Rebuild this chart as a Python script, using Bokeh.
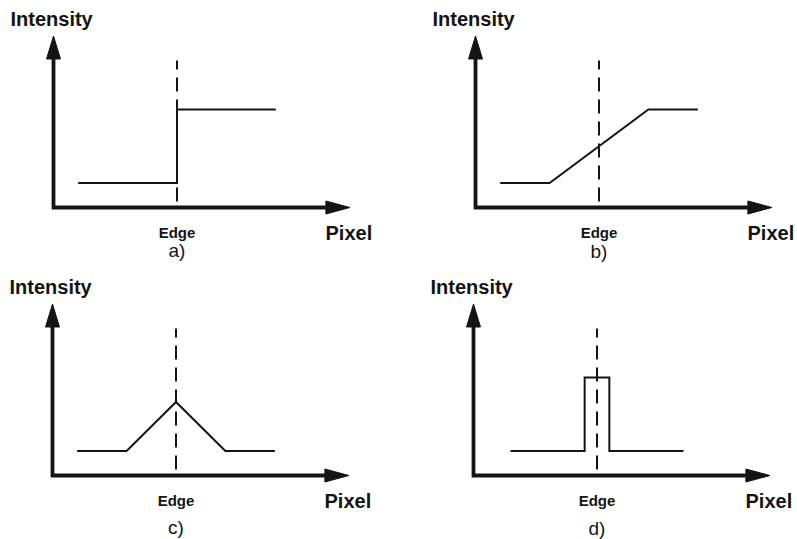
from bokeh.plotting import figure
from bokeh.layouts import column, row
from bokeh.models import Range1d, Label
from bokeh.embed import file_html
from bokeh.resources import INLINE

# Intensity profiles across an edge (x: pixel position, y: intensity)
step_x = [1, 5, 5, 9]
step_y = [1, 1, 4, 4]

ramp_x = [1, 3, 7, 9]
ramp_y = [1, 1, 4, 4]

roof_x = [1, 3, 5, 7, 9]
roof_y = [1, 1, 3, 1, 1]

pulse_x = [1.5, 4.5, 4.5, 5.5, 5.5, 8.5]
pulse_y = [1, 1, 4, 4, 1, 1]

edge_pos = 5
edge_span = [0.25, 6]
x_axis_end = 12
y_axis_end = 7

captions = ["a)", "b)", "c)", "d)"]
y_title = "Intensity"
x_title = "Pixel"
edge_label = "Edge"

# drawing scale: screen pixels per unit
SX = 24.7
SY = 24.5
INK = "#141414"
FONT = "Liberation Sans"


def panel(xs, ys, caption, width, height, ox, oy, caption_drop):
    p = figure(width=width, height=height, output_backend="svg",
               toolbar_location=None, x_axis_type=None, y_axis_type=None,
               min_border=0, outline_line_color=None,
               x_range=Range1d(-ox / SX, (width - ox) / SX),
               y_range=Range1d(-(height - oy) / SY, oy / SY))
    p.grid.visible = False
    p.background_fill_color = "white"
    p.border_fill_color = "white"

    # axes drawn as an L with filled arrow heads
    head_v, half_v = 23 / SY, 7 / SX
    head_h, half_h = 24 / SX, 6.5 / SY
    p.line([0, 0, x_axis_end - head_h], [y_axis_end - head_v, 0, 0],
           line_width=3.8, line_color=INK, line_join="miter")
    p.patch([0, -half_v, half_v], [y_axis_end, y_axis_end - head_v, y_axis_end - head_v],
            fill_color=INK, line_color=INK, line_width=1)
    p.patch([x_axis_end, x_axis_end - head_h, x_axis_end - head_h], [0, half_h, -half_h],
            fill_color=INK, line_color=INK, line_width=1)

    # edge marker
    p.line([edge_pos, edge_pos], edge_span, line_width=2, line_color=INK,
           line_dash="14 8")

    # intensity profile
    p.line(xs, ys, line_width=2, line_color=INK, line_join="miter")

    p.add_layout(Label(x=-43 / SX, y=189 / SY, text=y_title, text_font=FONT,
                       text_font_size="20px", text_font_style="bold",
                       text_color=INK, text_align="left", text_baseline="middle"))
    p.add_layout(Label(x=272 / SX, y=-25 / SY, text=x_title, text_font=FONT,
                       text_font_size="20px", text_font_style="bold",
                       text_color=INK, text_align="left", text_baseline="middle"))
    p.add_layout(Label(x=edge_pos, y=-25 / SY, text=edge_label, text_font=FONT,
                       text_font_size="15px", text_font_style="bold",
                       text_color=INK, text_align="center", text_baseline="middle"))
    p.add_layout(Label(x=edge_pos, y=-caption_drop / SY, text=caption, text_font=FONT,
                       text_font_size="19px", text_color=INK,
                       text_align="center", text_baseline="middle"))
    return p


pa = panel(step_x, step_y, captions[0], 400, 270, 53, 207, 43)
pb = panel(ramp_x, ramp_y, captions[1], 397, 270, 75, 207, 44)
pc = panel(roof_x, roof_y, captions[2], 400, 269, 52, 205, 52)
pd = panel(pulse_x, pulse_y, captions[3], 397, 269, 73, 205, 53)

layout = column(row(pa, pb), row(pc, pd))
open("out.html", "w").write(file_html(layout, INLINE))
